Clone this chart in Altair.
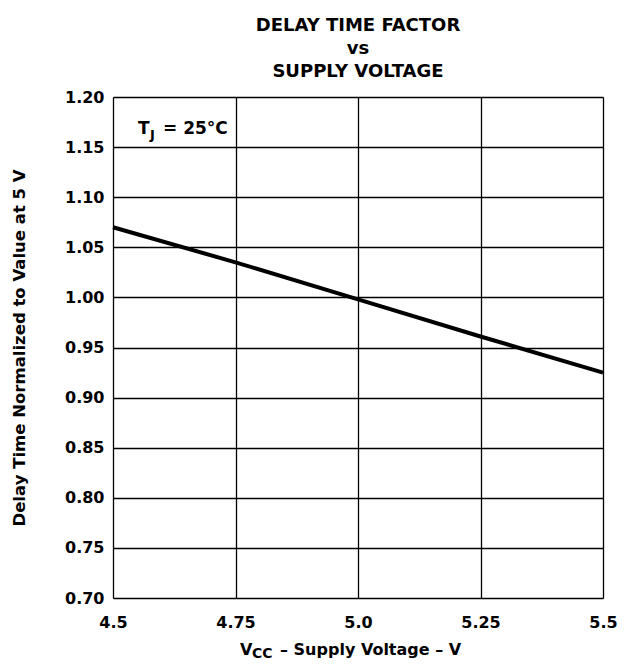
import altair as alt
import pandas as pd

vcc = [4.5, 4.75, 5.0, 5.25, 5.5]
factor = [1.070, 1.035, 0.998, 0.961, 0.925]
x_ticks = [4.5, 4.75, 5.0, 5.25, 5.5]
y_ticks = [0.70, 0.75, 0.80, 0.85, 0.90, 0.95, 1.00, 1.05, 1.10, 1.15, 1.20]

df = pd.DataFrame({"vcc": vcc, "factor": factor})
FONT = "DejaVu Sans"

base = alt.Chart(df)

line = base.mark_line(color="black", strokeWidth=4).encode(
    x=alt.X("vcc:Q",
            scale=alt.Scale(domain=[4.5, 5.5], nice=False, zero=False),
            axis=alt.Axis(values=x_ticks, title=None, grid=True,
                          labelExpr="datum.value == 5 ? '5.0' : format(datum.value, '')",
                          labelPadding=16, tickSize=0, domain=False,
                          labelFontSize=16, labelFont=FONT, labelFontWeight="bold",
                          labelColor="black", gridColor="black", gridWidth=1.3,
                          gridOpacity=1, labelFlush=False)),
    y=alt.Y("factor:Q",
            scale=alt.Scale(domain=[0.70, 1.20], nice=False, zero=False),
            axis=alt.Axis(values=y_ticks, format=".2f", grid=True,
                          title="Delay Time Normalized to Value at 5 V",
                          titleFont=FONT, titleFontSize=16.5, titleFontWeight="bold",
                          titleColor="black", titlePadding=37,
                          labelPadding=9, tickSize=0, domain=False,
                          labelFontSize=16, labelFont=FONT, labelFontWeight="bold",
                          labelColor="black", gridColor="black", gridWidth=1.3,
                          gridOpacity=1, labelFlush=False)),
)

def txt(s, x, y, size):
    return alt.Chart(pd.DataFrame({"t": [s]})).mark_text(
        align="left", baseline="alphabetic", font=FONT, fontWeight="bold",
        fontSize=size, color="black"
    ).encode(text="t:N", x=alt.value(x), y=alt.value(y))

annot = (txt("T", 25, 37, 17) + txt("J", 37, 42, 13) + txt("= 25°C", 50, 37, 17))
xtitle = (txt("V", 127, 558, 16) + txt("CC", 139, 561, 14) +
          txt("– Supply Voltage – V", 167, 558, 16))

chart = alt.layer(line, annot, xtitle).properties(
    width=490, height=501,
    autosize=alt.AutoSizeParams(type="none"),
    padding={"left": 105, "top": 89, "right": 19, "bottom": 64},
    title=alt.TitleParams(["DELAY TIME FACTOR", "vs", "SUPPLY VOLTAGE"],
                          font=FONT, fontSize=18, fontWeight="bold",
                          color="black", lineHeight=23, offset=8, anchor="middle"),
).configure_view(stroke="black", strokeWidth=1.6).configure(background="white")

chart.save("out.html", embed_options={"renderer": "svg", "actions": False})
